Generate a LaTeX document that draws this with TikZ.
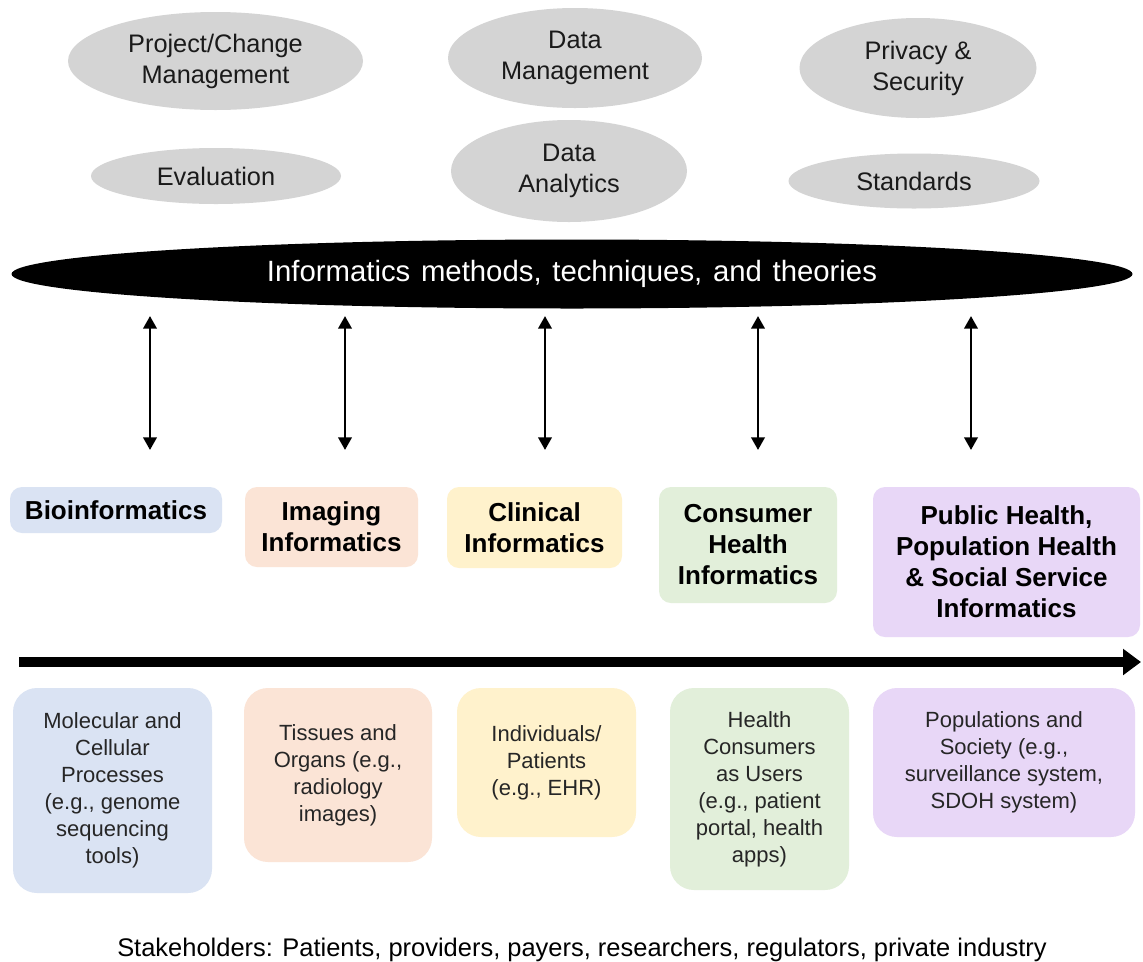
\documentclass[tikz,border=0pt]{standalone}
\usepackage{fontspec}
\setmainfont{Liberation Sans}
\usetikzlibrary{shapes.geometric,arrows.meta}

\definecolor{ovalgray}{HTML}{D4D4D4}
\definecolor{ovaltext}{HTML}{1A1A1A}
\definecolor{boxtext}{HTML}{262626}
\definecolor{bioblue}{HTML}{DAE3F3}
\definecolor{imgpeach}{HTML}{FBE4D6}
\definecolor{clinyellow}{HTML}{FFF2CC}
\definecolor{consgreen}{HTML}{E2EFDA}
\definecolor{pubpurple}{HTML}{E8D7F7}

\tikzset{
  oval/.style={ellipse, fill=ovalgray, inner sep=0pt, align=center, text=ovaltext,
    font=\fontsize{19}{23.25}\selectfont},
  catbox/.style={rectangle, rounded corners=9pt, inner sep=0pt, align=center, text=black,
    font=\bfseries\fontsize{19.5}{23.25}\selectfont},
  scopebox/.style={rectangle, rounded corners=18pt, inner sep=0pt, align=center, text=boxtext,
    font=\fontsize{16.5}{20.25}\selectfont},
  link/.style={{Triangle[length=9.5pt,width=10pt]}-{Triangle[length=9.5pt,width=10pt]},
    line width=2.1pt},
  spectrum/.style={-{Triangle[length=13.5pt,width=19pt]}, line width=7.5pt},
}

\begin{document}
\begin{tikzpicture}[x=0.75pt,y=-0.75pt]
\useasboundingbox (0,0) rectangle (1143,961);
\fill[white] (0,0) rectangle (1143,961);

% Supporting areas
\node[oval, minimum width=221.25pt, minimum height=73.5pt] (proj) at (215.5,61) {Project/Change\\Management};
\node[oval, minimum width=190.5pt, minimum height=75pt] (dman) at (575,58) {Data\\Management};
\node[oval, minimum width=177.75pt, minimum height=75pt] (priv) at (918,68) {Privacy \&\\Security};
\node[oval, minimum width=187.5pt, minimum height=42pt] (eval) at (216,176) {Evaluation};
\node[oval, minimum width=177pt, minimum height=76.5pt] (dana) at (569,171) {Data\\Analytics};
\node[oval, minimum width=188.25pt, minimum height=41.25pt] (stds) at (914,181) {Standards};

% Core methods band
\node[ellipse, fill=black, text=white, inner sep=0pt, minimum width=840.75pt, minimum height=51.75pt,
  font=\fontsize{22}{26}\selectfont] (core) at (572,274)
  {\spaceskip=8pt\relax Informatics methods, techniques, and theories};

% Sub-discipline labels
\node[catbox, fill=bioblue, minimum width=159pt, minimum height=34.5pt] (bio) at (116,510) {Bioinformatics};
\node[catbox, fill=imgpeach, minimum width=129.75pt, minimum height=60pt] (img) at (331.5,527) {Imaging\\Informatics};
\node[catbox, fill=clinyellow, minimum width=131.25pt, minimum height=60.75pt] (clin) at (534.5,527.5) {Clinical\\Informatics};
\node[catbox, fill=consgreen, minimum width=133.5pt, minimum height=87pt] (cons) at (748,545) {Consumer\\Health\\Informatics};
\node[catbox, fill=pubpurple, minimum width=200.25pt, minimum height=112.5pt] (pub) at (1006.5,562) {Public Health,\\Population Health\\\& Social Service\\Informatics};

% Two-way links between methods and sub-disciplines
\foreach \i/\xx in {1/150, 2/345, 3/545, 4/758, 5/971} {
  \coordinate (lt\i) at (\xx,316);
  \coordinate (lb\i) at (\xx,450);
  \draw[link] (lt\i) -- (lb\i);
}

% Scale arrow
\coordinate (sstart) at (19,662);
\coordinate (send) at (1141,662);
\draw[spectrum] (sstart) -- (send);

% Levels of focus
\node[scopebox, fill=bioblue, minimum width=149.25pt, minimum height=153.75pt] (mol) at (112.5,790.5)
  {Molecular and\\Cellular\\Processes\\(e.g., genome\\sequencing\\tools)};
\node[scopebox, fill=imgpeach, minimum width=141pt, minimum height=130.5pt] (tis) at (338,775)
  {Tissues and\\Organs (e.g.,\\radiology\\images)};
\node[scopebox, fill=clinyellow, minimum width=134.25pt, minimum height=111.75pt] (ind) at (546.5,762.5)
  {Individuals/\\Patients\\(e.g., EHR)};
\node[scopebox, fill=consgreen, minimum width=134.25pt, minimum height=151.5pt] (hcu) at (759.5,789)
  {Health\\Consumers\\as Users\\(e.g., patient\\portal, health\\apps)};
\node[scopebox, fill=pubpurple, minimum width=196.5pt, minimum height=111.75pt] (pop) at (1004,762.5)
  {Populations and\\Society (e.g.,\\surveillance system,\\SDOH system)};

% Stakeholders line
\node[anchor=base, inner sep=0pt, text=black, font=\fontsize{19.1}{23}\selectfont] (stake) at (582,956)
  {Stakeholders: Patients, providers, payers, researchers, regulators, private industry};
\end{tikzpicture}
\end{document}
